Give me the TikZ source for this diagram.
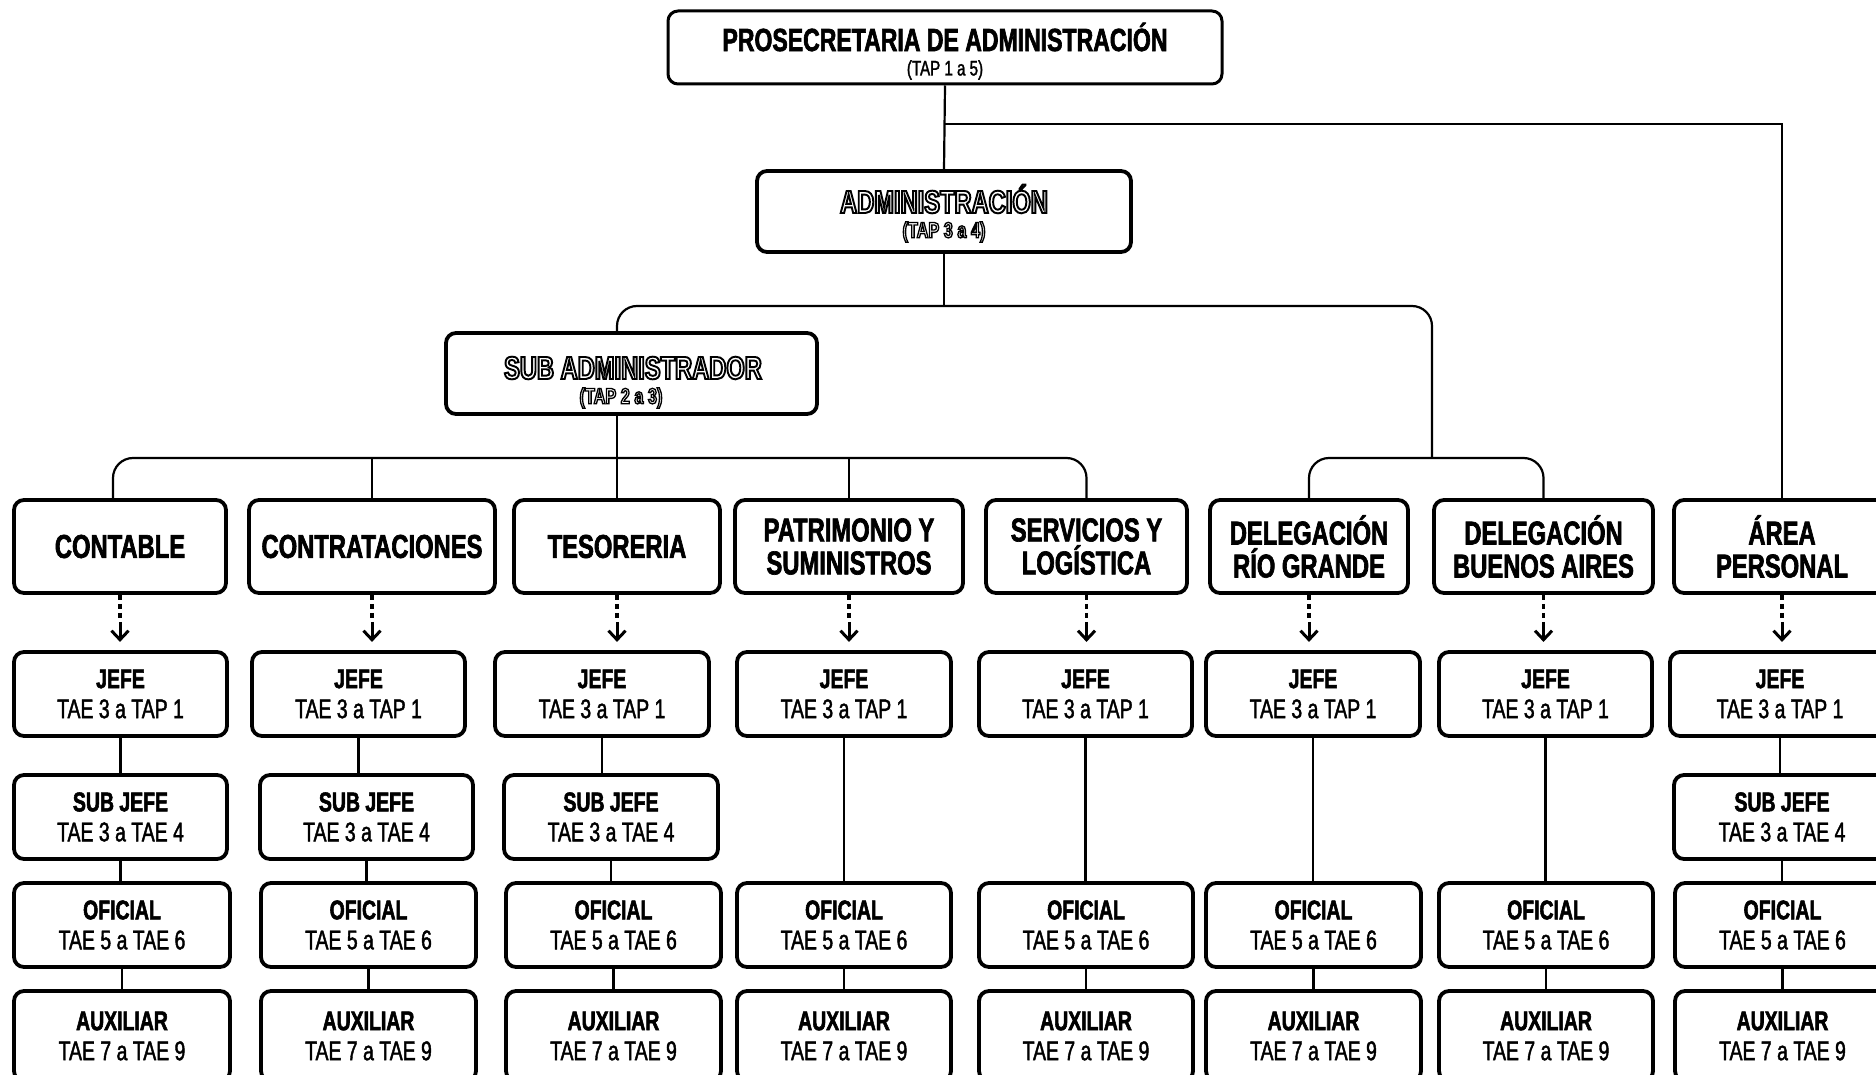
\documentclass[tikz,border=0pt]{standalone}
\usepackage{fontspec}
\setmainfont{Liberation Sans}[FakeStretch=0.72, UprightFeatures={FakeBold=1.5}, BoldFeatures={FakeBold=2}]
\newfontfamily\halofont{Liberation Sans}[FakeStretch=0.74, FakeBold=6]
\usetikzlibrary{arrows.meta}
\newcommand\myA{\fontsize{33}{33}\selectfont\bfseries}
\newcommand\myB{\fontsize{27}{30}\selectfont}
\newcommand\outl[1]{\special{pdf:literal direct 1 g 0 G}#1\special{pdf:literal direct 0 g 0 G}}
\tikzset{
  box/.style={draw, line width=3.8pt, rounded corners=10pt, inner sep=0pt, align=center, fill=white},
  conn/.style={line width=2.2pt},
  dotpart/.style={line width=3.5pt, dash pattern=on 5pt off 4pt},
  arrpart/.style={line width=3pt, -{Straight Barb[length=9pt,width=17pt]}},
  halo/.style={inner sep=0pt, font=\halofont\bfseries\fontsize{#1}{#1}\selectfont}
}
\newcommand\bx[7][]{%
  \pgfmathsetmacro\bw{#5-#3}\pgfmathsetmacro\bh{#6-#4}%
  \node[box, minimum width=\bw pt, minimum height=\bh pt, #1] (#2) at ({(#3+#5)/2},{(#4+#6)/2}) {#7};}
\begin{document}
\begin{tikzpicture}[x=1pt,y=-1pt]
\useasboundingbox (0,0) rectangle (1876,1075);
\clip (0,0) rectangle (1876,1075);
\fill[white] (0,0) rectangle (1876,1075);

% top levels
\bx[line width=3pt]{top}{668}{11}{1222}{84}{}
\node[inner sep=0pt, font=\fontsize{32}{32}\selectfont\bfseries] (topt) at (945,37) {PROSECRETARIA DE ADMINISTRACIÓN};
\node[inner sep=0pt, font=\fontsize{21}{21}\selectfont] (topp) at (945,70) {(TAP 1 a 5)};
\bx{adm}{757}{171}{1131}{252}{}
\bx{sub}{446}{333}{817}{414}{}
\node[halo=32] (admt) at (944,199) {\outl{ADMINISTRACIÓN}};
\node[halo=22] (admp) at (944,232) {\outl{(TAP 3 a 4)}};
\node[halo=32] (subt) at (633,368) {\outl{SUB ADMINISTRADOR}};
\node[halo=22] (subp) at (621,398) {\outl{(TAP 2 a 3)}};

% row 1
\bx[font=\myA]{c1}{14}{500}{226}{593}{CONTABLE}
\bx[font=\myA]{c2}{249}{500}{495}{593}{CONTRATACIONES}
\bx[font=\myA]{c3}{514}{500}{720}{593}{TESORERIA}
\bx[font=\myA]{c4}{735}{500}{963}{593}{PATRIMONIO Y\\SUMINISTROS}
\bx[font=\myA]{c5}{986}{500}{1187}{593}{SERVICIOS Y\\LOGÍSTICA}
\bx[font=\myA]{c6}{1210}{500}{1408}{593}{DELEGACIÓN\\RÍO GRANDE}
\bx[font=\myA]{c7}{1434}{500}{1653}{593}{DELEGACIÓN\\BUENOS AIRES}
\bx[font=\myA]{c8}{1674}{500}{1890}{593}{ÁREA\\PERSONAL}

% row 2 JEFE
\bx[font=\myB]{j1}{14}{652}{227}{736}{\textbf{JEFE}\\TAE 3 a TAP 1}
\bx[font=\myB]{j2}{252}{652}{465}{736}{\textbf{JEFE}\\TAE 3 a TAP 1}
\bx[font=\myB]{j3}{495}{652}{709}{736}{\textbf{JEFE}\\TAE 3 a TAP 1}
\bx[font=\myB]{j4}{737}{652}{951}{736}{\textbf{JEFE}\\TAE 3 a TAP 1}
\bx[font=\myB]{j5}{979}{652}{1192}{736}{\textbf{JEFE}\\TAE 3 a TAP 1}
\bx[font=\myB]{j6}{1206}{652}{1420}{736}{\textbf{JEFE}\\TAE 3 a TAP 1}
\bx[font=\myB]{j7}{1439}{652}{1652}{736}{\textbf{JEFE}\\TAE 3 a TAP 1}
\bx[font=\myB]{j8}{1670}{652}{1890}{736}{\textbf{JEFE}\\TAE 3 a TAP 1}

% row 3 SUB JEFE
\bx[font=\myB]{s1}{14}{775}{227}{859}{\textbf{SUB JEFE}\\TAE 3 a TAE 4}
\bx[font=\myB]{s2}{260}{775}{473}{859}{\textbf{SUB JEFE}\\TAE 3 a TAE 4}
\bx[font=\myB]{s3}{504}{775}{718}{859}{\textbf{SUB JEFE}\\TAE 3 a TAE 4}
\bx[font=\myB]{s8}{1674}{775}{1890}{859}{\textbf{SUB JEFE}\\TAE 3 a TAE 4}

% row 4 OFICIAL
\bx[font=\myB]{o1}{14}{883}{230}{967}{\textbf{OFICIAL}\\TAE 5 a TAE 6}
\bx[font=\myB]{o2}{261}{883}{476}{967}{\textbf{OFICIAL}\\TAE 5 a TAE 6}
\bx[font=\myB]{o3}{506}{883}{721}{967}{\textbf{OFICIAL}\\TAE 5 a TAE 6}
\bx[font=\myB]{o4}{737}{883}{951}{967}{\textbf{OFICIAL}\\TAE 5 a TAE 6}
\bx[font=\myB]{o5}{979}{883}{1193}{967}{\textbf{OFICIAL}\\TAE 5 a TAE 6}
\bx[font=\myB]{o6}{1206}{883}{1421}{967}{\textbf{OFICIAL}\\TAE 5 a TAE 6}
\bx[font=\myB]{o7}{1439}{883}{1653}{967}{\textbf{OFICIAL}\\TAE 5 a TAE 6}
\bx[font=\myB]{o8}{1675}{883}{1890}{967}{\textbf{OFICIAL}\\TAE 5 a TAE 6}

% row 5 AUXILIAR
\bx[font=\myB]{a1}{14}{991}{230}{1081}{\textbf{AUXILIAR}\\TAE 7 a TAE 9}
\bx[font=\myB]{a2}{261}{991}{476}{1081}{\textbf{AUXILIAR}\\TAE 7 a TAE 9}
\bx[font=\myB]{a3}{506}{991}{721}{1081}{\textbf{AUXILIAR}\\TAE 7 a TAE 9}
\bx[font=\myB]{a4}{737}{991}{951}{1081}{\textbf{AUXILIAR}\\TAE 7 a TAE 9}
\bx[font=\myB]{a5}{979}{991}{1193}{1081}{\textbf{AUXILIAR}\\TAE 7 a TAE 9}
\bx[font=\myB]{a6}{1206}{991}{1421}{1081}{\textbf{AUXILIAR}\\TAE 7 a TAE 9}
\bx[font=\myB]{a7}{1439}{991}{1653}{1081}{\textbf{AUXILIAR}\\TAE 7 a TAE 9}
\bx[font=\myB]{a8}{1675}{991}{1890}{1081}{\textbf{AUXILIAR}\\TAE 7 a TAE 9}

% upper connectors
\coordinate (b1) at (944,124);
\coordinate (bar2) at (944,306);
\coordinate (dbar) at (1432,458);
\coordinate (r1bar) at (617,458);
\draw[conn] (top.south) -- (adm.north);
\draw[conn] (b1) -| (c8.north);
\draw[conn] (adm.south) -- (bar2);
\draw[conn, rounded corners=20pt] (sub.north -| c3.north) |- (bar2) -| (dbar);
\draw[conn, rounded corners=20pt] (c6.north) |- (dbar) -| (c7.north);
\draw[conn] (sub.south -| c3.north) -- (c3.north);
\draw[conn, rounded corners=20pt] ([xshift=-7pt]c1.north) |- (r1bar) -| (c5.north);
\draw[conn] (c2.north) -- (c2.north |- r1bar);
\draw[conn] (c4.north) -- (c4.north |- r1bar);

% dotted arrows
\foreach \i in {1,...,8}{
  \draw[dotpart] (c\i.south) -- ++(0,24);
  \path (c\i.south) ++(0,27) coordinate (t\i);
  \draw[arrpart] (t\i) -- ++(0,20);
}

% column connectors
\foreach \i in {1,2,3,8}{
  \draw[conn] (j\i.south) -- (j\i.south |- s\i.north);
  \draw[conn] (s\i.south) -- (s\i.south |- o\i.north);
}
\foreach \i in {4,5,6,7}{
  \draw[conn] (j\i.south) -- (j\i.south |- o\i.north);
}
\foreach \i in {1,...,8}{
  \draw[conn] (o\i.south) -- (o\i.south |- a\i.north);
}
\end{tikzpicture}
\end{document}
